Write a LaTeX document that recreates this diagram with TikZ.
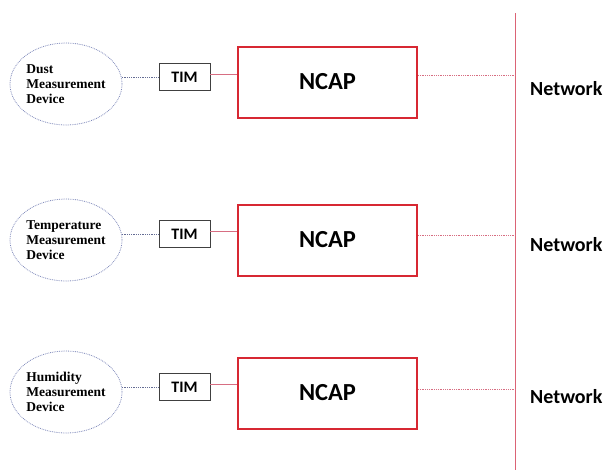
\documentclass[tikz,border=0pt]{standalone}
\usepackage{fontspec}
\setmainfont{Liberation Serif}
\newfontfamily\labelfont{Carlito}
\usetikzlibrary{shapes.geometric,positioning}
\definecolor{ovalblue}{RGB}{125,135,185}
\definecolor{ncapred}{RGB}{215,40,50}
\definecolor{linkpink}{RGB}{215,110,130}
\tikzstyle{device} = [draw=ovalblue, densely dotted, thick, ellipse, minimum width=112pt, minimum height=82pt, inner sep=0pt, align=left, font=\fontsize{13.5}{15}\selectfont\bfseries]
\tikzstyle{timbox} = [draw=black!75, thick, rectangle, minimum width=51pt, minimum height=27pt, inner sep=0pt, font=\fontsize{16}{18}\selectfont\labelfont\bfseries]
\tikzstyle{ncapbox} = [draw=ncapred, line width=2pt, rectangle, minimum width=179pt, minimum height=71pt, font=\fontsize{24.5}{26}\selectfont\labelfont\bfseries]
\tikzstyle{netlabel} = [anchor=west, inner sep=0pt, font=\fontsize{20}{22}\selectfont\labelfont\bfseries]
\tikzstyle{devlink} = [draw=ovalblue!80!black, densely dotted, thick]
\tikzstyle{ncaplink} = [draw=linkpink, thick]
\tikzstyle{netlink} = [draw=linkpink, densely dotted, thick]
\tikzstyle{netbus} = [draw=linkpink!90!red, line width=1pt]
\begin{document}
\begin{tikzpicture}[x=1pt,y=-1pt]
	\useasboundingbox (0,0) rectangle (608,475);
	% network bus
	\coordinate (busTop) at (515.5,13);
	\coordinate (busBot) at (515.5,470);
	\draw[netbus] (busTop) -- (busBot);
	% dust row
	\node[device] (dust) at (66,84) {Dust\\Measurement\\Device};
	\node[timbox] (timA) at (184.5,77) {TIM};
	\node[ncapbox] (ncapA) at (327.5,82) {NCAP};
	\node[netlabel] (netA) at (530,89) {Network};
	\draw[devlink] (timA.west) -- (timA.west -| dust.east);
	\draw[ncaplink] ([yshift=3pt]timA.east) -- ([yshift=3pt]timA.east -| ncapA.west);
	\draw[netlink] ([yshift=7pt]ncapA.east) -- ([yshift=7pt]ncapA.east -| busTop);
	% temperature row
	\node[device] (temp) at (66,240) {Temperature\\Measurement\\Device};
	\node[timbox] (timB) at (184.5,234) {TIM};
	\node[ncapbox] (ncapB) at (327.5,240) {NCAP};
	\node[netlabel] (netB) at (530,245) {Network};
	\draw[devlink] (timB.west) -- (timB.west -| temp.east);
	\draw[ncaplink] ([yshift=3pt]timB.east) -- ([yshift=3pt]timB.east -| ncapB.west);
	\draw[netlink] ([yshift=5pt]ncapB.east) -- ([yshift=5pt]ncapB.east -| busTop);
	% humidity row
	\node[device] (humid) at (66,392) {Humidity\\Measurement\\Device};
	\node[timbox] (timC) at (184.5,387) {TIM};
	\node[ncapbox] (ncapC) at (327.5,393) {NCAP};
	\node[netlabel] (netC) at (530,397) {Network};
	\draw[devlink] (timC.west) -- (timC.west -| humid.east);
	\draw[ncaplink] ([yshift=3pt]timC.east) -- ([yshift=3pt]timC.east -| ncapC.west);
	\draw[netlink] ([yshift=4pt]ncapC.east) -- ([yshift=4pt]ncapC.east -| busTop);
\end{tikzpicture}
\end{document}
